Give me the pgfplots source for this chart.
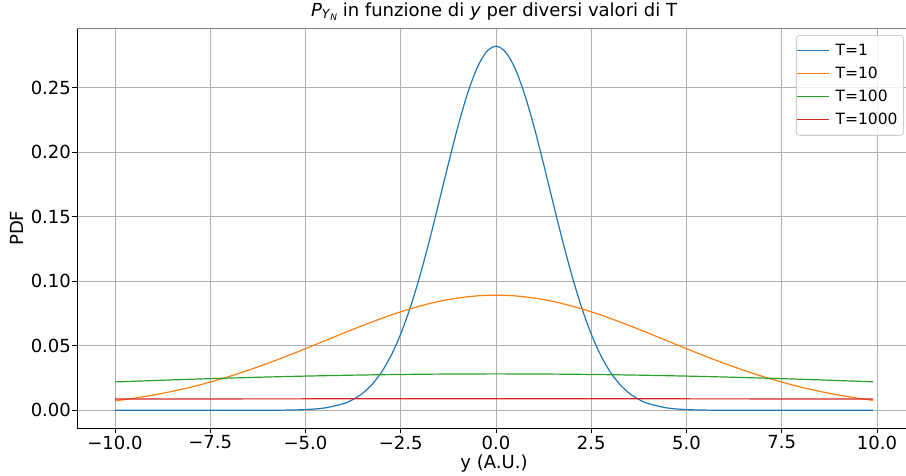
\documentclass[border=0pt]{standalone}
\usepackage{fontspec}
\setmainfont{DejaVu Sans}
\usepackage{pgfplots}
\pgfplotsset{compat=1.18}

\definecolor{tabblue}{HTML}{1F77B4}
\definecolor{taborange}{HTML}{FF7F0E}
\definecolor{tabgreen}{HTML}{2CA02C}
\definecolor{tabred}{HTML}{D62728}
\definecolor{gridgray}{HTML}{B0B0B0}

\newcommand{\tfont}{\fontsize{18}{21}\selectfont}

\begin{document}
\begin{tikzpicture}
\begin{axis}[
    scale only axis,
    width=833pt, height=400pt,
    xmin=-10.995, xmax=10.895,
    ymin=-0.0141, ymax=0.2962,
    axis x line*=bottom, axis y line*=left,
    axis line style={black, line width=0.8pt},
    xtick={-10,-7.5,-5,-2.5,0,2.5,5,7.5,10},
    xticklabels={−10.0,−7.5,−5.0,−2.5,0.0,2.5,5.0,7.5,10.0},
    ytick={0,0.05,0.1,0.15,0.2,0.25},
    yticklabels={0.00,0.05,0.10,0.15,0.20,0.25},
    tick align=outside,
    major tick length=5pt,
    tick style={black, line width=0.8pt},
    ticklabel style={font=\tfont, inner sep=0pt},
    xticklabel style={yshift=-2pt},
    yticklabel style={xshift=-1pt},
    grid=major,
    major grid style={gridgray, line width=0.8pt},
    title={\textit{P}\raisebox{-0.28ex}{\fontsize{12.5}{14}\selectfont\textit{Y}\raisebox{-0.3ex}{\fontsize{9}{10}\selectfont\textit{N}}} in funzione di \textit{y} per diversi valori di T},
    title style={font=\tfont, anchor=base, at={(rel axis cs:0.5,1)}, yshift=6pt},
    xlabel={y (A.U.)},
    ylabel={PDF},
    label style={font=\tfont},
    xlabel style={at={(rel axis cs:0.5,0)}, anchor=base, yshift=-40pt},
    ylabel style={at={(rel axis cs:0,0.5)}, anchor=center, yshift=60pt},
    legend style={at={(rel axis cs:0.9916,0.9825)}, anchor=north east,
        font=\fontsize{15.5}{17}\selectfont, draw=black!20, fill=white, fill opacity=0.8,
        text opacity=1, rounded corners=3pt, inner xsep=0pt, inner ysep=9pt,
        row sep=10pt, line width=0.8pt,
        nodes={inner xsep=6pt, inner ysep=0pt}},
    legend cell align=left,
    legend image code/.code={\draw[#1, line width=1.2pt] (0pt,0pt) -- (32pt,0pt);},
    every axis plot/.append style={line width=1.2pt},
]
\addplot[tabblue, smooth] coordinates {
(-10,0)(-9,0)(-8,0)(-7,0.00000)(-6,0.00003)(-5.5,0.00015)(-5,0.00054)(-4.5,0.00179)
(-4,0.00517)(-3.75,0.00838)(-3.5,0.01319)(-3.25,0.02012)(-3,0.02973)(-2.75,0.04259)
(-2.5,0.05913)(-2.25,0.07957)(-2,0.10378)(-1.75,0.13119)(-1.5,0.16073)(-1.25,0.19087)
(-1,0.21970)(-0.75,0.24509)(-0.5,0.26500)(-0.25,0.27772)(0,0.28209)
(0.25,0.27772)(0.5,0.26500)(0.75,0.24509)(1,0.21970)(1.25,0.19087)(1.5,0.16073)
(1.75,0.13119)(2,0.10378)(2.25,0.07957)(2.5,0.05913)(2.75,0.04259)(3,0.02973)
(3.25,0.02012)(3.5,0.01319)(3.75,0.00838)(4,0.00517)(4.5,0.00179)(5,0.00054)
(5.5,0.00015)(6,0.00003)(7,0.00000)(8,0)(9,0)(9.9,0)
};
\addlegendentry{T=1}
\addplot[taborange, smooth] coordinates {
(-10,0.00732)(-9.5,0.00935)(-9,0.01177)(-8.5,0.01465)(-8,0.01801)(-7.5,0.02186)
(-7,0.02621)(-6.5,0.03102)(-6,0.03627)(-5.5,0.04188)(-5,0.04775)(-4.5,0.05377)
(-4,0.05980)(-3.5,0.06567)(-3,0.07123)(-2.5,0.07630)(-2,0.08072)(-1.5,0.08433)
(-1,0.08700)(-0.5,0.08865)(0,0.08921)(0.5,0.08865)(1,0.08700)(1.5,0.08433)
(2,0.08072)(2.5,0.07630)(3,0.07123)(3.5,0.06567)(4,0.05980)(4.5,0.05377)
(5,0.04775)(5.5,0.04188)(6,0.03627)(6.5,0.03102)(7,0.02621)(7.5,0.02186)
(8,0.01801)(8.5,0.01465)(9,0.01177)(9.5,0.00935)(9.9,0.00770)
};
\addlegendentry{T=10}
\addplot[tabgreen] coordinates {
(-10,0.02197)(-9,0.02304)(-8,0.02404)(-7,0.02496)(-6,0.02578)(-5,0.02650)
(-4,0.02710)(-3,0.02758)(-2,0.02793)(-1,0.02814)(0,0.02821)(1,0.02814)
(2,0.02793)(3,0.02758)(4,0.02710)(5,0.02650)(6,0.02578)(7,0.02496)
(8,0.02404)(9,0.02304)(9.9,0.02208)
};
\addlegendentry{T=100}
\addplot[tabred] coordinates {
(-10,0.00870)(-7.5,0.00880)(-5,0.00886)(-2.5,0.00891)(0,0.00892)
(2.5,0.00891)(5,0.00886)(7.5,0.00880)(9.9,0.00870)
};
\addlegendentry{T=1000}
\draw[black!50, line width=1.5pt] (rel axis cs:0,1) -- (rel axis cs:1,1);
\end{axis}
\pgfresetboundingbox
\path ([shift={(-77pt,-47pt)}]current axis.south west) rectangle ([shift={(-5pt,28pt)}]current axis.north east);
\end{tikzpicture}
\end{document}
